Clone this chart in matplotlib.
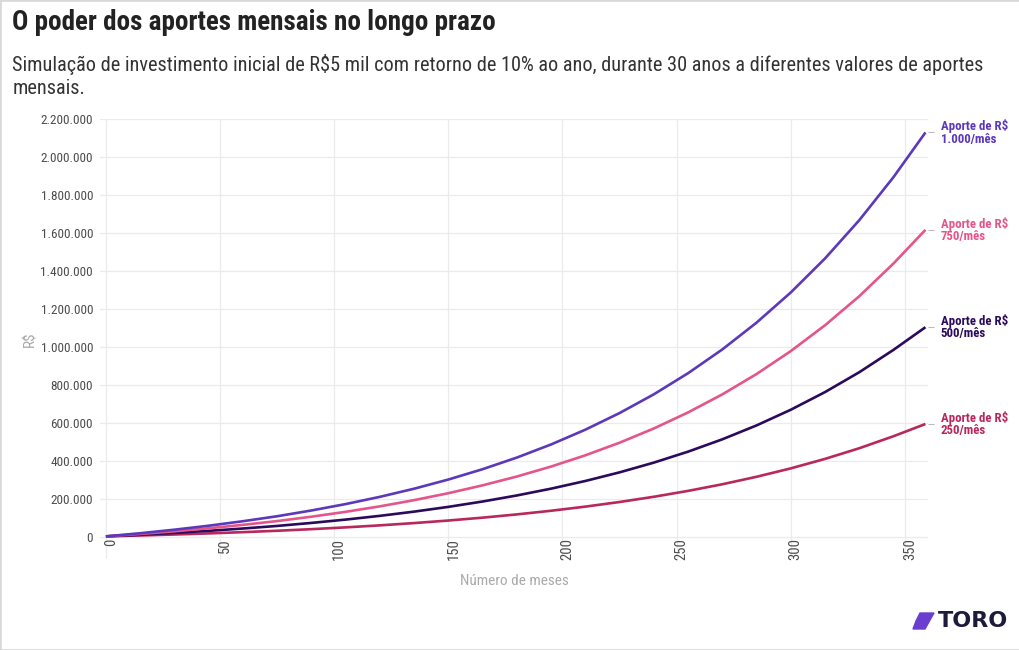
import matplotlib
matplotlib.use("Agg")
import matplotlib.pyplot as plt
import matplotlib.transforms as mtransforms
from matplotlib import font_manager
from matplotlib.patches import Rectangle, Polygon
from matplotlib.ticker import FuncFormatter

# dados (valor acumulado em R$)
meses = [0, 15, 30, 45, 60, 75, 90, 105, 120, 135, 150, 165, 180,
         195, 210, 225, 240, 255, 270, 285, 300, 315, 330, 345, 359]
aporte_1000 = [5000, 21500, 40100, 61000, 84600, 110800, 141100, 174800, 212800,
               255600, 303800, 358200, 419300, 488300, 565900, 653400, 751900,
               862900, 987900, 1128800, 1287500, 1466300, 1667500, 1894100, 2129000]
aporte_750 = [5000, 17500, 31700, 47600, 65500, 85400, 108400, 134000, 162900,
              195400, 232000, 273300, 319700, 372100, 431100, 497500, 572300,
              656600, 751600, 858600, 979200, 1115000, 1267800, 1440000, 1617000]
aporte_500 = [5000, 13600, 23200, 34100, 46300, 59900, 75700, 93200, 112900,
              135100, 160100, 188300, 220100, 255900, 296200, 341600, 392800,
              450400, 515300, 588400, 670800, 763700, 868100, 985800, 1105000]
aporte_250 = [5000, 9600, 14800, 20600, 27200, 34500, 42900, 52300, 62900,
              74900, 88300, 103400, 120500, 139700, 161400, 185700, 213200,
              244100, 279000, 318300, 362500, 412400, 468400, 531600, 596000]

rotulos = ["Aporte de R$\n1.000/mês", "Aporte de R$\n750/mês",
           "Aporte de R$\n500/mês", "Aporte de R$\n250/mês"]
cores = ["#5c38bb", "#e4558a", "#2b0a5c", "#b8285c"]
series = [aporte_1000, aporte_750, aporte_500, aporte_250]

nomes = {f.name for f in font_manager.fontManager.ttflist}
fonte = next((n for n in ["Roboto Condensed", "Liberation Sans Narrow"] if n in nomes), "Roboto")
plt.rcParams["font.family"] = [fonte, "DejaVu Sans"]

fig = plt.figure(figsize=(10.2, 6.5), dpi=100)
ax = fig.add_axes([0.098, 0.14, 0.812, 0.677])

for vals, cor in zip(series[::-1], cores[::-1]):
    ax.plot(meses, vals, color=cor, lw=1.9, solid_capstyle="butt")

ax.set_xlim(-2.6, 360.2)
ax.set_ylim(-114000, 2200000)
ax.set_xticks(range(0, 351, 50))
ax.set_yticks(range(0, 2200001, 200000))
ax.yaxis.set_major_formatter(FuncFormatter(lambda v, p: f"{int(v):,}".replace(",", ".")))
ax.grid(True, color="#ebebeb", lw=0.9)
ax.set_axisbelow(True)
for s in ax.spines.values():
    s.set_visible(False)
ax.tick_params(axis="y", length=0, pad=5, labelsize=9.5, labelcolor="#4d4d4d")
ax.tick_params(axis="x", length=0, pad=-15, labelsize=10.5, labelcolor="#4d4d4d",
               labelrotation=90)
desloc = mtransforms.ScaledTranslation(5 / 100, 0, fig.dpi_scale_trans)
for lbl in ax.get_xticklabels():
    lbl.set_transform(lbl.get_transform() + desloc)
ax.set_xlabel("Número de meses", color="#aaaaaa", fontsize=11, labelpad=10)
ax.set_ylabel("R$", color="#aaaaaa", fontsize=11, labelpad=2)

# rótulos finais à direita
ax2 = ax.twinx()
ax2.set_ylim(ax.get_ylim())
ax2.set_yticks([s[-1] for s in series])
ax2.set_yticklabels(rotulos, fontsize=9.3, fontweight="bold", linespacing=0.95, va="center")
for lbl, cor in zip(ax2.get_yticklabels(), cores):
    lbl.set_color(cor)
ax2.tick_params(axis="y", length=4, width=0.8, color="#bbbbbb", pad=5)
for s in ax2.spines.values():
    s.set_visible(False)

fig.text(0.012, 0.966, "O poder dos aportes mensais no longo prazo", fontsize=19.5,
         fontweight="bold", color="#222222", va="center")
fig.text(0.012, 0.883, "Simulação de investimento inicial de R$5 mil com retorno de 10% ao ano, "
         "durante 30 anos a diferentes valores de aportes\nmensais.", fontsize=14.6,
         color="#333333", va="center", linespacing=1.25)

# logo
W, H = 1020, 650
pts = [(920, 613), (934, 613), (925, 629), (913, 629), (916, 621)]
fig.patches.append(Polygon([(x / W, 1 - y / H) for x, y in pts], closed=True,
                           transform=fig.transFigure, color="#6a3fd0"))
fig.text(0.919, 0.045, "TORO", fontsize=16, fontweight="heavy", family="DejaVu Sans",
         color="#1d1a3a", va="center")

fig.patches.append(Rectangle((0, 0), 1, 1, transform=fig.transFigure, fill=False,
                             edgecolor="#d9d9d9", lw=2))

fig.savefig("out.png", dpi=100)
